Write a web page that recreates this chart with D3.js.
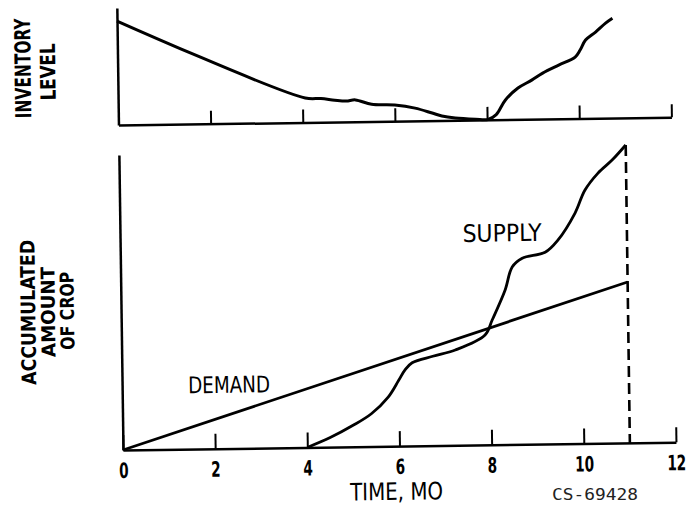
<!DOCTYPE html>
<html>
<head>
<meta charset="utf-8">
<script src="https://cdn.jsdelivr.net/npm/d3@7"></script>
<style>
  body { margin: 0; background: #fff; }
  svg { display: block; }
</style>
</head>
<body>
<svg id="plot"></svg>
<script>
// Tick months along the time axis
const tickMonths = [0, 2, 4, 6, 8, 10, 12];

// Inventory level (top panel), arbitrary units, 100 = starting level
const invMonths = [0, 4.06, 4.4, 4.7, 4.95, 5.15, 5.5, 6.0, 6.44, 6.81, 7.02, 7.31, 7.75, 8.02,
                   8.2, 8.4, 8.68, 8.98, 9.22, 9.57, 9.93, 10.04, 10.16, 10.38, 10.6, 10.75];
const invValues = [100, 23.5, 22.8, 21, 20, 21, 16.5, 15.5, 12.3, 7.3, 4.3, 2.2, 0.8, 0.4,
                   5, 18.7, 30.2, 37.6, 44.2, 51.7, 59.2, 65.9, 75.4, 83, 91.4, 96];

// Accumulated amount of crop (bottom panel)
const demandMonths = [0, 11];
const demandValues = [0, 54];
const supplyMonths = [4, 4.5, 5.0, 5.4, 5.77, 6.0, 6.14, 6.3, 6.75, 7.24, 7.89, 8.05, 8.34, 8.5,
                      8.72, 9.22, 9.5, 9.88, 10.1, 10.39, 10.7, 11];
const supplyValues = [0, 3.2, 7.2, 11, 16.5, 22, 25.5, 27.9, 30, 32, 36.9, 41.9, 51.9, 59.6,
                      62.5, 64.4, 68.4, 77.4, 85, 90.7, 95, 100];
const endMonth = 11;

const width = 690, height = 512;
const condensed = '"Liberation Sans Narrow", "DejaVu Sans Condensed", "Arial Narrow", sans-serif';

const svg = d3.select("#plot")
    .attr("width", width)
    .attr("height", height)
    .attr("viewBox", [0, 0, width, height]);

// the scan is tilted a little, so everything sits in a slightly rotated group
const g = svg.append("g").attr("transform", "rotate(-0.8, 123, 450)");

const x = d3.scaleLinear().domain([0, 12]).range([123, 676]);
const yTop = d3.scaleLinear().domain([0, 112.5]).range([125, 8]);
const yBot = d3.scaleLinear().domain([0, 99]).range([450, 155]);

const zip = (xs, ys) => xs.map((m, i) => [m, ys[i]]);

// ---- top panel: inventory level
const invPanel = g.append("g");

invPanel.append("g")
    .attr("transform", `translate(0,${yTop(0)})`)
    .call(d3.axisBottom(x).tickValues(tickMonths.slice(1)).tickSizeInner(-13).tickSizeOuter(0).tickFormat(""))
    .call(a => a.select(".domain").attr("stroke-width", 2.5))
    .call(a => a.selectAll(".tick line").attr("stroke-width", 2));

invPanel.append("g")
    .attr("transform", `translate(${x(0)},0)`)
    .call(d3.axisLeft(yTop).tickValues([]).tickSizeOuter(0))
    .call(a => a.select(".domain").attr("stroke-width", 2.5));

invPanel.append("path")
    .datum(zip(invMonths, invValues))
    .attr("fill", "none")
    .attr("stroke", "#000")
    .attr("stroke-width", 3)
    .attr("stroke-linejoin", "round")
    .attr("d", d3.line().x(d => x(d[0])).y(d => yTop(d[1])).curve(d3.curveCatmullRom.alpha(0.5)));

// ---- bottom panel: accumulated crop
const cropPanel = g.append("g");

cropPanel.append("g")
    .attr("transform", `translate(0,${yBot(0)})`)
    .call(d3.axisBottom(x).tickValues(tickMonths).tickSizeInner(-15).tickSizeOuter(0).tickPadding(13))
    .call(a => a.select(".domain").attr("stroke-width", 2.5))
    .call(a => a.selectAll(".tick line").attr("stroke-width", 2))
    .call(a => a.selectAll(".tick text")
        .attr("fill", "#000")
        .attr("font-family", condensed)
        .attr("font-weight", "bold")
        .attr("font-size", 21)
        .attr("transform", "scale(0.72,1)"));

cropPanel.append("g")
    .attr("transform", `translate(${x(0)},0)`)
    .call(d3.axisLeft(yBot).tickValues([]).tickSizeOuter(0))
    .call(a => a.select(".domain").attr("stroke-width", 2.5));

cropPanel.append("path")
    .datum(zip(demandMonths, demandValues))
    .attr("fill", "none")
    .attr("stroke", "#000")
    .attr("stroke-width", 2.8)
    .attr("d", d3.line().x(d => x(d[0])).y(d => yBot(d[1])));

cropPanel.append("path")
    .datum(zip(supplyMonths, supplyValues))
    .attr("fill", "none")
    .attr("stroke", "#000")
    .attr("stroke-width", 2.8)
    .attr("stroke-linejoin", "round")
    .attr("d", d3.line().x(d => x(d[0])).y(d => yBot(d[1])).curve(d3.curveCatmullRom.alpha(0.5)));

// dashed end-of-season line
cropPanel.append("line")
    .attr("x1", x(endMonth)).attr("x2", x(endMonth))
    .attr("y1", yBot(supplyValues[supplyValues.length - 1]))
    .attr("y2", yBot(0))
    .attr("stroke", "#000")
    .attr("stroke-width", 2.6)
    .attr("stroke-dasharray", "11,6");

// ---- labels: squeeze each one horizontally to the width seen in the scan
const label = (sel, txt, px, py, opts) => {
  const t = sel.append("text")
      .attr("text-anchor", "middle")
      .attr("dy", "0.36em")
      .attr("font-family", opts.family || condensed)
      .attr("font-weight", opts.weight || "normal")
      .attr("font-size", opts.size)
      .attr("fill", opts.fill || "#000")
      .text(txt);
  const natural = t.node().getComputedTextLength();
  const sx = opts.len ? opts.len / natural : 1;
  t.attr("transform", `translate(${px},${py})${opts.rotate ? " rotate(-90)" : ""} scale(${sx},1)`);
  return t;
};

label(g, "INVENTORY", 28, 67, {size: 22, weight: "bold", rotate: true, len: 100});
label(g, "LEVEL", 53, 71, {size: 21, weight: "bold", rotate: true, len: 57});

label(g, "ACCUMULATED", 30, 311, {size: 20, weight: "bold", rotate: true, len: 145});
label(g, "AMOUNT", 50, 311, {size: 19, weight: "bold", rotate: true, len: 90});
label(g, "OF CROP", 69, 310, {size: 19, weight: "bold", rotate: true, len: 78});

label(g, "SUPPLY", 505, 238, {size: 24, len: 79});
label(g, "DEMAND", 230, 386, {size: 23, len: 82});
label(g, "TIME, MO", 396, 495, {size: 24, len: 93});

label(svg, "CS-69428", 595, 494, {size: 16, family: '"DejaVu Sans Mono", monospace', fill: "#222", len: 86});
</script>
</body>
</html>
